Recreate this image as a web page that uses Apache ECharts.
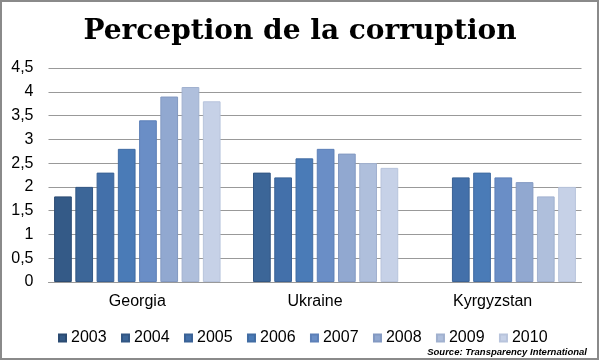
<!DOCTYPE html>
<html><head><meta charset="utf-8">
<script src="https://cdn.jsdelivr.net/npm/echarts@6/dist/echarts.min.js"></script>
<style>html,body{margin:0;padding:0;background:#fff}#c{width:600px;height:361px}</style>
</head><body><div id="c"></div>
<script>
const categories = ['Georgia', 'Ukraine', 'Kyrgyzstan'];
const years = ['2003','2004','2005','2006','2007','2008','2009','2010'];
// values per year: [Georgia, Ukraine, Kyrgyzstan]
const v2003 = [1.8, null, null];
const v2004 = [2.0, 2.3, null];
const v2005 = [2.3, 2.2, 2.2];
const v2006 = [2.8, 2.6, 2.3];
const v2007 = [3.4, 2.8, 2.2];
const v2008 = [3.9, 2.7, 2.1];
const v2009 = [4.1, 2.5, 1.8];
const v2010 = [3.8, 2.4, 2.0];
const yTicks = [0, 0.5, 1, 1.5, 2, 2.5, 3, 3.5, 4, 4.5];

const values = [v2003, v2004, v2005, v2006, v2007, v2008, v2009, v2010];
const colors = ['#345a87','#3c6698','#4370aa','#4a7bb7','#6a8ec6','#91a8d0','#afbfdc','#c6d1e7'];
const borders = ['#2b4b72','#325784','#3a6296','#416ca3','#5d80b8','#8399c2','#a1b1cf','#b8c4dc'];

const chart = echarts.init(document.getElementById('c'));
chart.setOption({
  animation: false,
  title: [{
    text: 'Perception de la corruption',
    left: 'center', top: 13,
    textStyle: { fontFamily: 'DejaVu Serif', fontWeight: 'bold', fontSize: 28, color: '#000' }
  }, {
    text: 'Source: Transparency International',
    right: 13, top: 347, padding: 0,
    textStyle: { fontFamily: 'Liberation Sans', fontWeight: 'bold', fontStyle: 'italic', fontSize: 9.5, color: '#000' }
  }],
  graphic: [{
    type: 'rect', shape: { x: 1, y: 1, width: 597, height: 358 },
    style: { fill: 'none', stroke: '#8a8a8a', lineWidth: 2 }, silent: true
  }],
  legend: {
    data: years, left: 53, top: 325,
    itemWidth: 7, itemHeight: 7, itemGap: 14.4,
    icon: 'rect',
    textStyle: { fontFamily: 'Liberation Sans', fontSize: 16, color: '#000' }
  },
  grid: { left: 48.5, right: 18.5, top: 68, bottom: 79 },
  xAxis: {
    type: 'category', data: categories,
    axisLine: { lineStyle: { color: '#999' } },
    axisTick: { show: false },
    axisLabel: { fontFamily: 'Liberation Sans', fontSize: 16, color: '#000', margin: 12 }
  },
  yAxis: {
    type: 'value', min: 0, max: 4.5, interval: 0.5,
    axisLine: { show: false }, axisTick: { show: false },
    splitLine: { lineStyle: { color: '#999', width: 1 } },
    axisLabel: {
      fontFamily: 'Liberation Sans', fontSize: 16, color: '#000', margin: 15,
      formatter: v => String(v).replace('.', ',')
    }
  },
  series: years.map((y, i) => ({
    name: y, type: 'bar', data: values[i],
    barGap: '20%', barCategoryGap: '6.3%',
    itemStyle: { color: colors[i], borderColor: borders[i], borderWidth: 1 }
  }))
});
</script></body></html>
